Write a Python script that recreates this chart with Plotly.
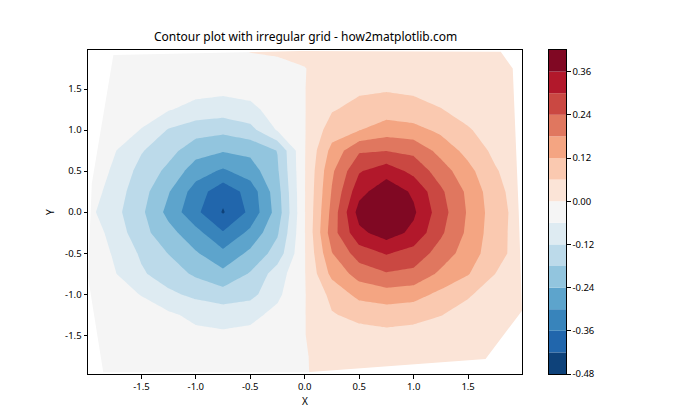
import plotly.graph_objects as go

# ---------------- data ----------------
x_grid = [-2.0, -1.75, -1.5, -1.25, -1.0, -0.75, -0.5, -0.25, 0.0,
          0.25, 0.5, 0.75, 1.0, 1.25, 1.5, 1.75, 2.0]
y_grid = [-2.0, -1.75, -1.5, -1.25, -1.0, -0.75, -0.5, -0.25, 0.0,
          0.25, 0.5, 0.75, 1.0, 1.25, 1.5, 1.75, 2.0]

# rows go from y = -2 (first) to y = 2 (last)
z_rows = [
    [-0.001, -0.002, -0.004, -0.006, -0.008, -0.009, -0.008, -0.005, -0.001, 0.005, 0.009, 0.010, 0.009, 0.007, 0.005, 0.003, 0.001],
    [-0.002, -0.005, -0.010, -0.015, -0.020, -0.022, -0.020, -0.012, -0.002, 0.012, 0.020, 0.022, 0.020, 0.015, 0.010, 0.005, 0.002],
    [-0.004, -0.010, -0.025, -0.035, -0.045, -0.050, -0.045, -0.025, -0.001, 0.025, 0.040, 0.045, 0.040, 0.030, 0.020, 0.010, 0.004],
    [-0.008, -0.020, -0.040, -0.050, -0.075, -0.085, -0.075, -0.045, -0.002, 0.056, 0.075, 0.085, 0.078, 0.062, 0.040, 0.020, 0.008],
    [-0.005, -0.040, -0.062, -0.108, -0.135, -0.155, -0.140, -0.072, -0.003, 0.077, 0.140, 0.155, 0.145, 0.105, 0.066, 0.035, 0.012],
    [-0.010, -0.055, -0.112, -0.150, -0.190, -0.225, -0.175, -0.090, -0.003, 0.137, 0.205, 0.235, 0.225, 0.168, 0.124, 0.060, 0.020],
    [-0.010, -0.067, -0.129, -0.182, -0.234, -0.285, -0.227, -0.155, -0.003, 0.178, 0.270, 0.305, 0.277, 0.214, 0.151, 0.084, 0.030],
    [-0.018, -0.083, -0.159, -0.219, -0.280, -0.355, -0.285, -0.187, -0.003, 0.213, 0.345, 0.390, 0.345, 0.250, 0.167, 0.085, 0.030],
    [-0.040, -0.100, -0.168, -0.258, -0.346, -0.425, -0.346, -0.213, -0.003, 0.200, 0.385, 0.415, 0.370, 0.266, 0.173, 0.088, 0.030],
    [-0.020, -0.090, -0.156, -0.236, -0.328, -0.400, -0.336, -0.204, -0.003, 0.185, 0.340, 0.400, 0.350, 0.251, 0.167, 0.081, 0.025],
    [-0.010, -0.071, -0.141, -0.195, -0.272, -0.310, -0.270, -0.188, -0.003, 0.170, 0.295, 0.335, 0.283, 0.210, 0.139, 0.066, 0.020],
    [-0.010, -0.055, -0.115, -0.159, -0.215, -0.235, -0.225, -0.178, -0.003, 0.139, 0.232, 0.238, 0.225, 0.159, 0.100, 0.045, 0.010],
    [-0.005, -0.035, -0.062, -0.125, -0.155, -0.165, -0.140, -0.055, -0.003, 0.090, 0.118, 0.150, 0.140, 0.107, 0.065, 0.035, 0.010],
    [-0.002, -0.020, -0.040, -0.056, -0.080, -0.090, -0.075, -0.035, -0.002, 0.055, 0.080, 0.090, 0.080, 0.062, 0.040, 0.020, 0.005],
    [-0.001, -0.010, -0.020, -0.030, -0.040, -0.045, -0.040, -0.020, -0.001, 0.030, 0.050, 0.055, 0.050, 0.040, 0.025, 0.012, 0.003],
    [-0.001, -0.004, -0.008, -0.012, -0.016, -0.018, -0.020, -0.008, -0.001, 0.015, 0.025, 0.028, 0.025, 0.020, 0.012, 0.006, 0.002],
    [-0.001, -0.002, -0.004, -0.006, -0.008, -0.010, 0.006, 0.006, 0.010, 0.010, 0.012, 0.012, 0.010, 0.008, 0.005, 0.003, 0.001],
]

# convex hull of the scattered sample points (outside it nothing is drawn)
hull_x = [-1.757, -0.04, 1.80, 1.91, 1.965, 1.995, 1.66, 0.02, -1.85, -1.99, -1.955]
hull_y = [1.915, 1.963, 1.955, 1.75, 0.0, -1.20, -1.79, -1.95, -1.95, -0.79, 0.35]

band_levels = [-0.48, -0.42, -0.36, -0.30, -0.24, -0.18, -0.12, -0.06, 0.0,
               0.06, 0.12, 0.18, 0.24, 0.30, 0.36, 0.42]
band_colors = ['#0e427a', '#2166ac', '#3884bb', '#5da4cc', '#92c5de',
               '#bcdaea', '#deebf2', '#f5f5f5', '#fbe4d7', '#fac9b0',
               '#f4a582', '#e0775f', '#ca4842', '#b2182b', '#800823']
cbar_ticks = [-0.48, -0.36, -0.24, -0.12, 0.0, 0.12, 0.24, 0.36]
cbar_ticktext = ['-0.48', '-0.36', '-0.24', '-0.12', '0.00', '0.12', '0.24', '0.36']
x_ticks = [-1.5, -1.0, -0.5, 0.0, 0.5, 1.0, 1.5]
y_ticks = [-1.5, -1.0, -0.5, 0.0, 0.5, 1.0, 1.5]

# ---------------- styling ----------------
FONT = 'Noto Sans'
n_bands = len(band_colors)
n_levels = len(band_levels)
step = band_levels[1] - band_levels[0]
lo = band_levels[0] - step / 2
hi = band_levels[0] + (n_levels - 0.5) * step
colorscale = []
for k, c in enumerate(band_colors):
    a = (band_levels[k] - lo) / (hi - lo)
    b = (band_levels[k + 1] - lo) / (hi - lo)
    colorscale.append([0.0 if k == 0 else a + 1e-6, c])
    colorscale.append([1.0 if k == n_bands - 1 else b - 1e-6, c])

fig = go.Figure()
fig.add_trace(go.Contour(
    x=x_grid, y=y_grid, z=z_rows,
    contours=dict(start=band_levels[0], end=band_levels[-1], size=step,
                  coloring='fill', showlines=False),
    line=dict(width=0, smoothing=0),
    colorscale=colorscale, showscale=False, hoverinfo='skip',
    xaxis='x', yaxis='y'))

# white mask outside the convex hull
R = 3.0
hx = hull_x[::-1]
hy = hull_y[::-1]
mask_x = [-R, -R, R, R, -R] + hx + [hx[0], -R]
mask_y = [-R, R, R, -R, -R] + hy + [hy[0], -R]
fig.add_trace(go.Scatter(x=mask_x, y=mask_y, mode='lines', fill='toself',
                         fillcolor='white', line=dict(width=0),
                         hoverinfo='skip', showlegend=False,
                         xaxis='x', yaxis='y'))

# colorbar drawn as stacked bar segments
fig.add_trace(go.Bar(x=[0] * n_bands,
                     y=[band_levels[k + 1] - band_levels[k] for k in range(n_bands)],
                     base=band_levels[:-1], width=1.0,
                     marker=dict(color=band_colors, line=dict(width=0)),
                     hoverinfo='skip', showlegend=False,
                     xaxis='x2', yaxis='y2'))

# the page body adds an 8px offset, so the figure is 8px smaller
W, H = 692, 412
L, Rm, T, B = 80, 134, 42, 46
pw = W - L - Rm
ax_right = 514
cb_left = 541

axis_common = dict(showline=True, linecolor='black', linewidth=1, mirror=True,
                   ticks='outside', ticklen=3.5, tickwidth=1, tickcolor='black',
                   showgrid=False, zeroline=False,
                   tickfont=dict(family=FONT, size=9.5, color='black'))

fig.update_layout(
    width=W, height=H,
    margin=dict(l=L, r=Rm, t=T, b=B, pad=0),
    paper_bgcolor='white', plot_bgcolor='white',
    showlegend=False,
    barmode='overlay',
    xaxis=dict(domain=[0, (ax_right - L) / pw], range=[-1.99, 1.995],
               tickvals=x_ticks, ticktext=['%.1f' % v for v in x_ticks],
               **axis_common),
    yaxis=dict(domain=[0, 1], range=[-1.972, 1.976], anchor='x',
               tickvals=y_ticks, ticktext=['%.1f' % v for v in y_ticks],
               **axis_common),
    xaxis2=dict(domain=[(cb_left - L) / pw, 1], range=[-0.5, 0.5], anchor='y2',
                showline=True, linecolor='black', linewidth=1, mirror=True,
                showticklabels=False, ticks='', showgrid=False, zeroline=False),
    yaxis2=dict(domain=[0, 1], range=[band_levels[0], band_levels[-1]], anchor='x2',
                side='right', showline=True, linecolor='black', linewidth=1,
                mirror=True, ticks='outside', ticklen=3.5, tickwidth=1,
                tickcolor='black', tickvals=cbar_ticks, ticktext=cbar_ticktext,
                showgrid=False, zeroline=False,
                tickfont=dict(family=FONT, size=9.5, color='black')),
    annotations=[
        dict(text='Contour plot with irregular grid - how2matplotlib.com',
             xref='x domain', yref='paper', x=0.5, y=1, xanchor='center',
             yanchor='bottom', yshift=3, showarrow=False,
             font=dict(family=FONT, size=12, color='black')),
        dict(text='X', xref='x domain', yref='paper', x=0.5, y=0,
             xanchor='center', yanchor='middle', yshift=-27, showarrow=False,
             font=dict(family=FONT, size=10, color='black')),
        dict(text='Y', xref='paper', yref='y domain', x=0, y=0.5,
             xanchor='center', yanchor='middle', xshift=-38, textangle=-90,
             showarrow=False, font=dict(family=FONT, size=10, color='black')),
    ],
)

fig.write_html('out.html')
